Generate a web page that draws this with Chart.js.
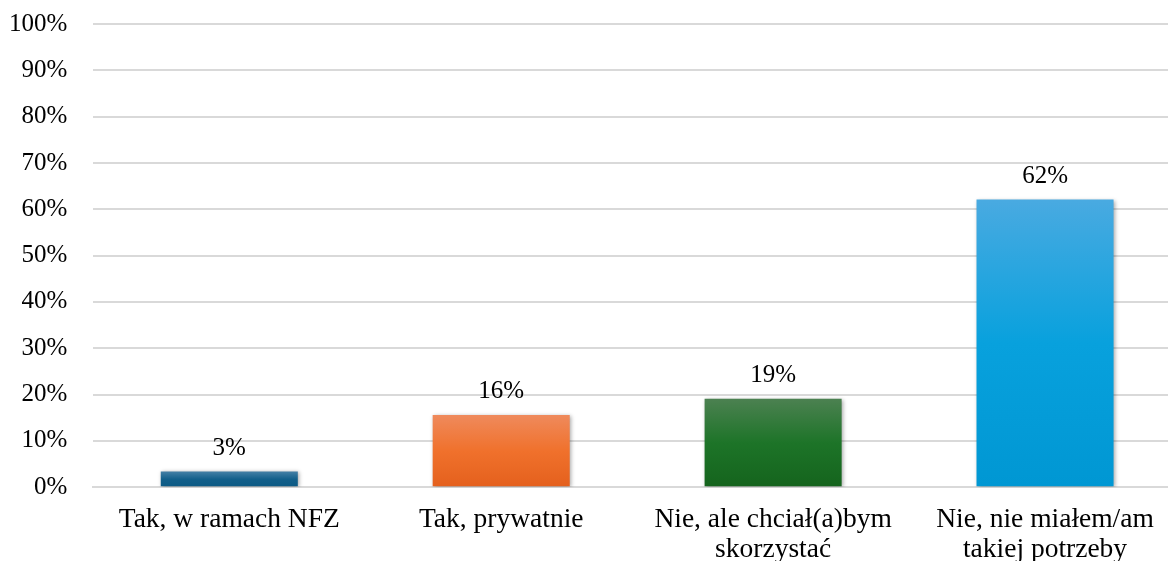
<!DOCTYPE html>
<html>
<head>
<meta charset="utf-8">
<script src="https://cdn.jsdelivr.net/npm/chart.js@4/dist/chart.umd.min.js"></script>
<style>
  html, body { margin: 0; padding: 0; background: #fff; overflow: hidden; width: 1168px; height: 561px; position: relative; }
  #wrap { position: absolute; left: -25px; top: -17px; width: 1206px; height: 599px; }
</style>
</head>
<body>
<div id="wrap"><canvas id="chart"></canvas></div>
<script>
var categories = [
  "Tak, w ramach NFZ",
  "Tak, prywatnie",
  ["Nie, ale chciał(a)bym", "skorzystać"],
  ["Nie, nie miałem/am", "takiej potrzeby"]
];
var values = [3.4, 15.6, 19.1, 62.1];
var yTicks = [0, 10, 20, 30, 40, 50, 60, 70, 80, 90, 100];
// top / middle / bottom of each bar's gradient
var barColors = [
  ["#4580a6", "#125f8a", "#0c5a84"],
  ["#ef8a5c", "#f0712c", "#e4601d"],
  ["#4c8151", "#1d7428", "#15641d"],
  ["#49aae1", "#08a1dd", "#0097d3"]
];

var serif = "'Liberation Serif', 'Times New Roman', serif";

function barFill(ctx) {
  var chart = ctx.chart;
  var c = barColors[ctx.dataIndex];
  if (!chart.chartArea) return c[1];
  var y = chart.scales.y;
  var top = y.getPixelForValue(values[ctx.dataIndex]);
  var bottom = y.getPixelForValue(0);
  var g = chart.ctx.createLinearGradient(0, top, 0, bottom);
  g.addColorStop(0, c[0]);
  g.addColorStop(0.5, c[1]);
  g.addColorStop(1, c[2]);
  return g;
}

var barShadow = {
  id: 'barShadow',
  beforeDatasetDraw: function(chart) {
    var ctx = chart.ctx;
    ctx.save();
    ctx.shadowColor = 'rgba(0,0,0,0.35)';
    ctx.shadowBlur = 4;
    ctx.shadowOffsetX = 1;
    ctx.shadowOffsetY = 1;
  },
  afterDatasetDraw: function(chart) {
    chart.ctx.restore();
  }
};

var valueLabels = {
  id: 'valueLabels',
  afterDatasetsDraw: function(chart) {
    var ctx = chart.ctx;
    var meta = chart.getDatasetMeta(0);
    ctx.save();
    ctx.font = '25px ' + serif;
    ctx.fillStyle = '#000';
    ctx.textAlign = 'center';
    ctx.textBaseline = 'middle';
    meta.data.forEach(function(bar, i) {
      ctx.fillText(Math.round(values[i]) + '%', bar.x, bar.y - 23);
    });
    ctx.restore();
  }
};

new Chart(document.getElementById('chart').getContext('2d'), {
  type: 'bar',
  data: {
    labels: categories,
    datasets: [{
      data: values,
      backgroundColor: barFill,
      borderWidth: 0,
      barPercentage: 0.504,
      categoryPercentage: 1
    }]
  },
  options: {
    responsive: true,
    maintainAspectRatio: false,
    animation: false,
    layout: { padding: { top: 12, left: 8, right: 0, bottom: 0 } },
    plugins: { legend: { display: false }, tooltip: { enabled: false } },
    scales: {
      x: {
        grid: { display: false, drawTicks: false },
        border: { display: true, color: '#d9d9d9', width: 2 },
        ticks: {
          color: '#000',
          font: { family: serif, size: 27.5, lineHeight: 1.07 },
          padding: 18,
          maxRotation: 0,
          autoSkip: false
        }
      },
      y: {
        min: 0,
        max: 100,
        afterBuildTicks: function(axis) {
          axis.ticks = yTicks.map(function(v) { return { value: v }; });
        },
        grid: { color: '#d9d9d9', lineWidth: 2, drawTicks: false },
        border: { display: false },
        ticks: {
          color: '#000',
          font: { family: serif, size: 25 },
          padding: 26,
          callback: function(v) { return v + '%'; }
        }
      }
    }
  },
  plugins: [barShadow, valueLabels]
});
</script>
</body>
</html>
